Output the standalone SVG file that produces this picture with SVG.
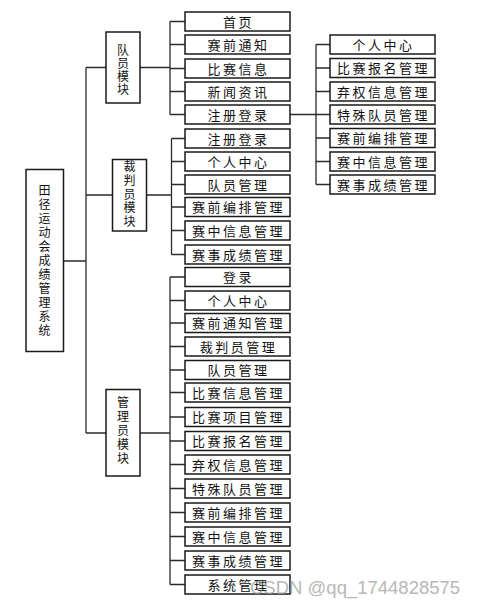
<svg xmlns="http://www.w3.org/2000/svg" width="477" height="607" viewBox="0 0 477 607">
<style>
.box{fill:#fff;stroke:#1a1a1a;stroke-width:1.5}
.ln{stroke:#2a2a2a;stroke-width:1.3;fill:none}
.t{font-family:"Noto Sans CJK SC","Liberation Serif",serif;font-size:13px;fill:#111;text-anchor:middle;letter-spacing:2.5px}
.v{font-family:"Noto Sans CJK SC","Liberation Serif",serif;font-size:12px;fill:#111;writing-mode:vertical-rl;text-orientation:upright}
.wm{font-family:"Liberation Sans",Arial,sans-serif;font-size:18.5px;fill:#a0a0a0;opacity:0.75}
</style>
<rect width="477" height="607" fill="#fff"/>
<g id="connectors">
<path class="ln" d="M63.5 261H86M86 67.5V433M86 67.5H106M86 195H112.5M86 433H106"/>
<path class="ln" d="M140 67.5H170M170 21.5V114.5M170 21.5H185M170 44.5H185M170 68.5H185M170 91.5H185M170 114.5H185"/>
<path class="ln" d="M146.5 195H171.5M171.5 138.5V254.5M171.5 138.5H185M171.5 161.5H185M171.5 184.5H185M171.5 207H185M171.5 230.5H185M171.5 254.5H185"/>
<path class="ln" d="M140 433H170M170 277V584.5M170 277H185M170 300.5H185M170 323H185M170 346.5H185M170 370H185M170 392.5H185M170 417H185M170 441H185M170 464.5H185M170 488.5H185M170 512.5H185M170 536.5H185M170 560.5H185M170 584.5H185"/>
<path class="ln" d="M290 114.5H316M316 44.5V184.5M316 44.5H330M316 68H330M316 91.5H330M316 114.5H330M316 138H330M316 161.5H330M316 184.5H330"/>
</g>
<g id="root"><rect class="box" x="26" y="169.5" width="37.5" height="182"/>
<text class="v" x="44.5" y="184" style="letter-spacing:2px">田径运动会成绩管理系统</text></g>
<g id="m1"><rect class="box" x="106" y="32" width="34" height="71"/>
<text class="v" x="123" y="44" style="letter-spacing:1px">队员模块</text></g>
<g id="m2"><rect class="box" x="112.5" y="159.5" width="34" height="71.5"/>
<text class="v" x="129.5" y="160.5" style="letter-spacing:1.75px">裁判员模块</text></g>
<g id="m3"><rect class="box" x="106" y="389.5" width="34" height="86.5"/>
<text class="v" x="123" y="396.7" style="letter-spacing:2px">管理员模块</text></g>
<g id="a1"><rect class="box" x="185" y="12" width="105" height="19"/><text class="t" x="238.5" y="26.5">首页</text></g>
<g id="a2"><rect class="box" x="185" y="35" width="105" height="19"/><text class="t" x="238.5" y="49.5">赛前通知</text></g>
<g id="a3"><rect class="box" x="185" y="59" width="105" height="19"/><text class="t" x="238.5" y="73.5">比赛信息</text></g>
<g id="a4"><rect class="box" x="185" y="82" width="105" height="19"/><text class="t" x="238.5" y="96.5">新闻资讯</text></g>
<g id="a5"><rect class="box" x="185" y="105" width="105" height="19"/><text class="t" x="238.5" y="119.5">注册登录</text></g>
<g id="b1"><rect class="box" x="185" y="129" width="105" height="19"/><text class="t" x="238.5" y="143.5">注册登录</text></g>
<g id="b2"><rect class="box" x="185" y="152" width="105" height="19"/><text class="t" x="238.5" y="166.5">个人中心</text></g>
<g id="b3"><rect class="box" x="185" y="175" width="105" height="19"/><text class="t" x="238.5" y="189.5">队员管理</text></g>
<g id="b4"><rect class="box" x="185" y="197.5" width="105" height="19"/><text class="t" x="238.5" y="212">赛前编排管理</text></g>
<g id="b5"><rect class="box" x="185" y="221" width="105" height="19"/><text class="t" x="238.5" y="235.5">赛中信息管理</text></g>
<g id="b6"><rect class="box" x="185" y="245" width="105" height="19"/><text class="t" x="238.5" y="259.5">赛事成绩管理</text></g>
<g id="c1"><rect class="box" x="185" y="267.5" width="105" height="19"/><text class="t" x="238.5" y="282">登录</text></g>
<g id="c2"><rect class="box" x="185" y="291" width="105" height="19"/><text class="t" x="238.5" y="305.5">个人中心</text></g>
<g id="c3"><rect class="box" x="185" y="313.5" width="105" height="19"/><text class="t" x="238.5" y="328">赛前通知管理</text></g>
<g id="c4"><rect class="box" x="185" y="337" width="105" height="19"/><text class="t" x="238.5" y="351.5">裁判员管理</text></g>
<g id="c5"><rect class="box" x="185" y="360.5" width="105" height="19"/><text class="t" x="238.5" y="375">队员管理</text></g>
<g id="c6"><rect class="box" x="185" y="383" width="105" height="19"/><text class="t" x="238.5" y="397.5">比赛信息管理</text></g>
<g id="c7"><rect class="box" x="185" y="407.5" width="105" height="19"/><text class="t" x="238.5" y="422">比赛项目管理</text></g>
<g id="c8"><rect class="box" x="185" y="431.5" width="105" height="19"/><text class="t" x="238.5" y="446">比赛报名管理</text></g>
<g id="c9"><rect class="box" x="185" y="455" width="105" height="19"/><text class="t" x="238.5" y="469.5">弃权信息管理</text></g>
<g id="c10"><rect class="box" x="185" y="479" width="105" height="19"/><text class="t" x="238.5" y="493.5">特殊队员管理</text></g>
<g id="c11"><rect class="box" x="185" y="503" width="105" height="19"/><text class="t" x="238.5" y="517.5">赛前编排管理</text></g>
<g id="c12"><rect class="box" x="185" y="527" width="105" height="19"/><text class="t" x="238.5" y="541.5">赛中信息管理</text></g>
<g id="c13"><rect class="box" x="185" y="551" width="105" height="19"/><text class="t" x="238.5" y="565.5">赛事成绩管理</text></g>
<g id="c14"><rect class="box" x="185" y="575" width="105" height="19"/><text class="t" x="238.5" y="589.5">系统管理</text></g>
<g id="d1"><rect class="box" x="330" y="35" width="105" height="19"/><text class="t" x="383.5" y="49.5">个人中心</text></g>
<g id="d2"><rect class="box" x="330" y="58.5" width="105" height="19"/><text class="t" x="383.5" y="73">比赛报名管理</text></g>
<g id="d3"><rect class="box" x="330" y="82" width="105" height="19"/><text class="t" x="383.5" y="96.5">弃权信息管理</text></g>
<g id="d4"><rect class="box" x="330" y="105" width="105" height="19"/><text class="t" x="383.5" y="119.5">特殊队员管理</text></g>
<g id="d5"><rect class="box" x="330" y="128.5" width="105" height="19"/><text class="t" x="383.5" y="143">赛前编排管理</text></g>
<g id="d6"><rect class="box" x="330" y="152" width="105" height="19"/><text class="t" x="383.5" y="166.5">赛中信息管理</text></g>
<g id="d7"><rect class="box" x="330" y="175" width="105" height="19"/><text class="t" x="383.5" y="189.5">赛事成绩管理</text></g>
<text class="wm" x="250" y="594">CSDN @qq_1744828575</text>
</svg>
